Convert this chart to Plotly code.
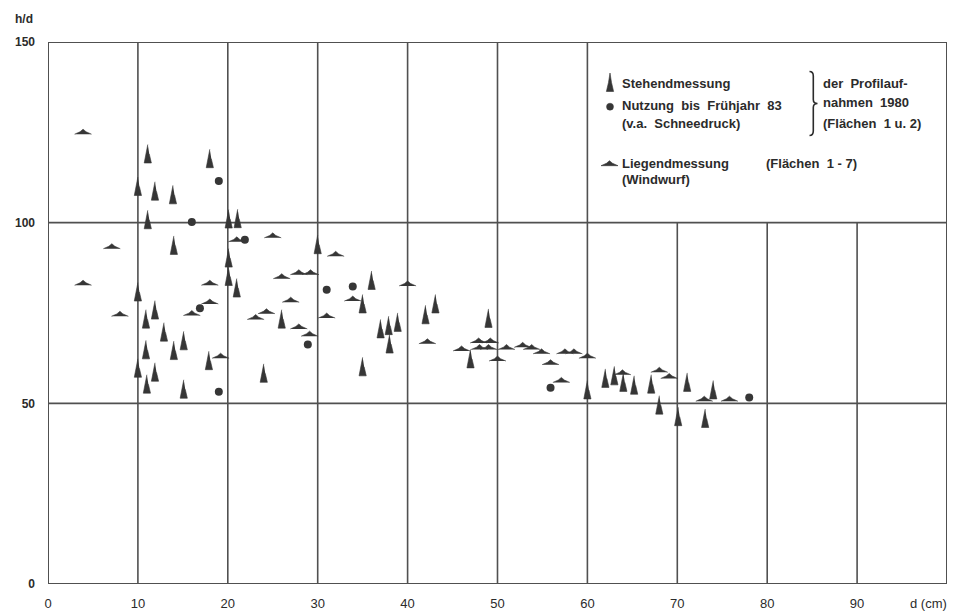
import plotly.graph_objects as go

# ---------------- data ----------------
stehend_d = [11.1, 18.0, 10.0, 11.9, 13.9, 11.1, 20.1, 21.1, 14.0, 20.1, 20.1, 21.0, 10.0, 11.9,
             10.9, 12.9, 15.1, 10.9, 14.0, 17.9, 10.0, 11.9, 11.0, 15.1, 30.0, 36.0, 35.0, 43.1,
             42.0, 26.0, 37.0, 37.9, 38.9, 38.0, 24.0, 35.0, 49.0, 47.0, 60.0, 62.0, 63.0, 64.0,
             65.2, 67.1, 71.1, 68.0, 70.1, 74.0, 73.1]
stehend_hd = [119.0, 117.7, 110.0, 108.7, 107.7, 100.8, 101.0, 101.1, 93.7, 90.2, 85.1, 81.9, 80.8, 75.8,
              73.3, 69.7, 67.3, 64.8, 64.6, 61.8, 59.7, 58.6, 55.3, 53.9, 93.9, 84.0, 77.5, 77.5,
              74.5, 73.3, 70.6, 71.5, 72.4, 66.4, 58.3, 60.1, 73.5, 62.3, 53.7, 56.9, 57.6, 55.8,
              55.0, 55.3, 55.8, 49.5, 46.3, 53.7, 45.8]

nutzung_d = [19.0, 16.0, 21.9, 16.9, 19.0, 31.0, 33.9, 28.9, 55.9, 78.0]
nutzung_hd = [111.5, 100.2, 95.3, 76.3, 53.2, 81.4, 82.3, 66.3, 54.3, 51.6]

liegend_d = [3.9, 7.1, 3.9, 8.0, 16.0, 18.0, 18.0, 19.2, 21.0, 25.0, 26.0, 27.9, 29.2, 32.0, 40.0,
             27.0, 33.9, 24.3, 23.1, 31.0, 27.9, 29.1, 42.2, 47.9, 49.2, 46.0, 48.0, 49.0, 50.0,
             51.0, 52.8, 53.8, 54.9, 55.9, 57.5, 58.5, 60.0, 57.1, 63.9, 68.0, 69.1, 73.0, 75.8]
liegend_hd = [125.1, 93.4, 83.3, 74.7, 74.9, 78.1, 83.3, 63.1, 95.3, 96.4, 85.1, 86.2, 86.2, 91.3, 83.1,
              78.6, 78.9, 75.4, 73.8, 74.2, 71.2, 69.2, 67.1, 67.3, 67.3, 65.1, 65.5, 65.5, 62.3,
              65.5, 66.1, 65.5, 64.3, 61.3, 64.3, 64.3, 63.1, 56.4, 58.5, 59.2, 57.5, 51.2, 51.2]

x_ticks = [0, 10, 20, 30, 40, 50, 60, 70, 80, 90]
x_ticklabels = ["0", "10", "20", "30", "40", "50", "60", "70", "80", "90"]
y_ticks = [0, 50, 100, 150]
y_ticklabels = ["0", "50", "100", "150"]

# ---------------- layout constants (page pixels) ----------------
W, H = 961, 612
OFF = 8                      # default body margin of the html page
L, R, T, B = 48, 14, 42, 28  # plot-area edges in page pixels
X_MAX, Y_MAX = 100, 150
pw, ph = W - L - R, H - T - B
ux, uy = pw / X_MAX, ph / Y_MAX

MARK = "#363636"
GRID = "#505050"
TXT = "#2b2b2b"
FONT = "Arial, Liberation Sans, sans-serif"

# glyph outlines in pixel offsets (y up)
SPIKE = [(0, 9.5), (-1.5, 0), (-3.6, -9), (3.6, -9), (1.5, 0)]
HAT = [(-8.5, -2.2), (-3, 0.2), (0, 2.8), (3, 0.2), (8.5, -2.2)]


def glyphs(xs, ys, shape):
    gx, gy = [], []
    for x, y in zip(xs, ys):
        for dx, dy in shape:
            gx.append(x + dx / ux)
            gy.append(y + dy / uy)
        gx.append(None)
        gy.append(None)
    return gx, gy


fig = go.Figure()

sx, sy = glyphs(stehend_d, stehend_hd, SPIKE)
fig.add_trace(go.Scatter(x=sx, y=sy, mode="lines", fill="toself", fillcolor=MARK,
                         line=dict(color=MARK, width=0.6), hoverinfo="skip",
                         showlegend=False, name="Stehendmessung"))
hx, hy = glyphs(liegend_d, liegend_hd, HAT)
fig.add_trace(go.Scatter(x=hx, y=hy, mode="lines", fill="toself", fillcolor=MARK,
                         line=dict(color=MARK, width=0.6), hoverinfo="skip",
                         showlegend=False, name="Liegendmessung"))
fig.add_trace(go.Scatter(x=nutzung_d, y=nutzung_hd, mode="markers",
                         marker=dict(symbol="circle", size=8, color=MARK),
                         showlegend=False, name="Nutzung"))

shapes = []
for xv in [10, 20, 30, 40, 50, 60]:
    shapes.append(dict(type="line", xref="x", yref="y", x0=xv, x1=xv, y0=0, y1=Y_MAX,
                       line=dict(color=GRID, width=1.6), layer="below"))
for xv in [70, 80, 90]:
    shapes.append(dict(type="line", xref="x", yref="y", x0=xv, x1=xv, y0=0, y1=100,
                       line=dict(color=GRID, width=1.6), layer="below"))
for yv in [50, 100]:
    shapes.append(dict(type="line", xref="x", yref="y", x0=0, x1=X_MAX, y0=yv, y1=yv,
                       line=dict(color=GRID, width=1.6), layer="below"))
shapes.append(dict(type="rect", xref="x", yref="y", x0=0, x1=X_MAX, y0=0, y1=Y_MAX,
                   line=dict(color=GRID, width=2), layer="below"))


def px(xp):
    return (xp - L) / pw


def py(yp):
    return (H - B - yp) / ph


def glyph_path(cx, cy, shape):
    pts = [f"{px(cx + dx):.5f},{py(cy - dy):.5f}" for dx, dy in shape]
    return "M" + "L".join(pts) + "Z"


# legend symbols
shapes.append(dict(type="path", xref="paper", yref="paper", path=glyph_path(610, 82.5, SPIKE),
                   fillcolor=MARK, line=dict(color=MARK, width=0.6)))
shapes.append(dict(type="path", xref="paper", yref="paper", path=glyph_path(609.5, 163.5, HAT),
                   fillcolor=MARK, line=dict(color=MARK, width=0.6)))
shapes.append(dict(type="circle", xref="paper", yref="paper",
                   x0=px(606.5), x1=px(613.5), y0=py(110.2), y1=py(103.2),
                   fillcolor=MARK, line=dict(color=MARK, width=0.5)))
# brace
bx, tip = 813.3, 817.5
brace = (f"M{px(809.5)},{py(71.5)} Q{px(bx)},{py(71.5)} {px(bx)},{py(76)} "
         f"L{px(bx)},{py(99.5)} Q{px(bx)},{py(103.5)} {px(tip)},{py(103.5)} "
         f"Q{px(bx)},{py(103.5)} {px(bx)},{py(107.5)} "
         f"L{px(bx)},{py(131)} Q{px(bx)},{py(135.5)} {px(809.5)},{py(135.5)}")
shapes.append(dict(type="path", xref="paper", yref="paper", path=brace,
                   line=dict(color=TXT, width=1.6)))

NB = "\u00a0"
ann = []


def label(text, xpix, ypix, size=13, bold=True, anchor="left"):
    ann.append(dict(text=(f"<b>{text}</b>" if bold else text), xref="paper", yref="paper",
                    x=px(xpix), y=py(ypix), xanchor=anchor, yanchor="middle",
                    showarrow=False, font=dict(family=FONT, size=size, color=TXT)))


label("Stehendmessung", 620, 83.3)
label(f"Nutzung{NB}{NB}bis{NB}{NB}Frühjahr{NB}{NB}83", 620, 106)
label(f"(v.a.{NB}{NB}Schneedruck)", 620, 123.3)
label(f"der{NB}{NB}Profilauf-", 821, 83.3)
label(f"nahmen{NB}{NB}1980", 821, 102)
label(f"(Flächen{NB}{NB}1{NB}u.{NB}2)", 821, 123.3)
label("Liegendmessung", 619.5, 163.5)
label(f"(Flächen{NB}{NB}1{NB}-{NB}7)", 764, 163.5)
label("(Windwurf)", 619.5, 179)
label("h/d", 24, 19, size=12, anchor="center")
label("d (cm)", 928, 603, size=13, bold=False, anchor="center")

fig.update_layout(
    width=W - OFF, height=H - OFF,
    margin=dict(l=L - OFF, r=R, t=T - OFF, b=B, pad=0, autoexpand=False),
    paper_bgcolor="white", plot_bgcolor="white",
    shapes=shapes, annotations=ann,
    xaxis=dict(range=[0, X_MAX], showgrid=False, zeroline=False, showline=False,
               tickmode="array", tickvals=x_ticks, ticktext=x_ticklabels, ticks="",
               ticklabelstandoff=10, tickfont=dict(family=FONT, size=13, color=TXT),
               fixedrange=True, automargin=False),
    yaxis=dict(range=[0, Y_MAX], showgrid=False, zeroline=False, showline=False,
               tickmode="array", tickvals=y_ticks, ticktext=[f"<b>{t}</b>" for t in y_ticklabels],
               ticks="", ticklabelstandoff=12, tickfont=dict(family=FONT, size=12, color=TXT),
               fixedrange=True, automargin=False),
    showlegend=False,
)

fig.write_html("out.html")
